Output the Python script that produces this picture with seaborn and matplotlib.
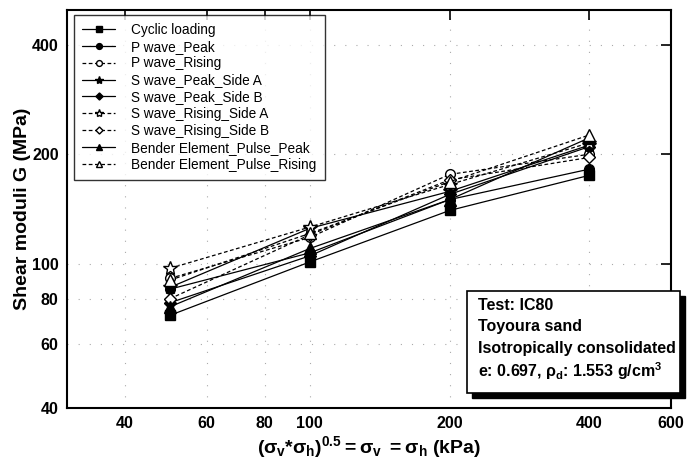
import matplotlib
matplotlib.use("Agg")
import matplotlib.pyplot as plt
from matplotlib.patches import Rectangle
from matplotlib.ticker import FixedLocator, FixedFormatter, NullLocator
import seaborn as sns
import pandas as pd

# Mean effective confining stress (kPa)
stress = [50, 100, 200, 400]

# Shear moduli G (MPa) for each measurement method
cyclic_loading = [72, 101, 140, 175]
p_peak = [85, 107, 150, 182]
p_rising = [91, 118, 176, 200]
s_peak_a = [86, 125, 158, 212]
s_peak_b = [78, 105, 155, 210]
s_rising_a = [97, 126, 165, 215]
s_rising_b = [80, 120, 170, 196]
be_peak = [76, 110, 150, 222]
be_rising = [90, 121, 168, 226]

series_names = [
    "Cyclic loading", "P wave_Peak", "P wave_Rising",
    "S wave_Peak_Side A", "S wave_Peak_Side B",
    "S wave_Rising_Side A", "S wave_Rising_Side B",
    "Bender Element_Pulse_Peak", "Bender Element_Pulse_Rising",
]
series_values = [cyclic_loading, p_peak, p_rising, s_peak_a, s_peak_b,
                 s_rising_a, s_rising_b, be_peak, be_rising]

markers = ["s", "o", "o", "*", "D", "*", "D", "^", "^"]
filled = [True, True, False, True, True, False, False, True, False]
marker_sizes = [7, 7, 7, 10, 6, 10, 6, 8, 8]

sns.set_theme(style="white")
plt.rcParams["font.family"] = ["Liberation Sans", "DejaVu Sans"]
plt.rcParams["text.color"] = "black"
plt.rcParams["axes.labelcolor"] = "black"
plt.rcParams["xtick.color"] = "black"
plt.rcParams["ytick.color"] = "black"
plt.rcParams["mathtext.fontset"] = "custom"
plt.rcParams["mathtext.rm"] = "Liberation Sans:bold"
plt.rcParams["mathtext.it"] = "Liberation Sans:bold"
plt.rcParams["mathtext.bf"] = "Liberation Sans:bold"

fig = plt.figure(figsize=(6.87, 4.66), dpi=100)
ax = fig.add_axes([0.0975, 0.1245, 0.8795, 0.8545])

for name, vals, mk, fl, ms in zip(series_names, series_values, markers, filled, marker_sizes):
    df = pd.DataFrame({"stress": stress, "G": vals})
    sns.lineplot(data=df, x="stress", y="G", ax=ax, color="black",
                 marker=mk, markersize=ms, linewidth=0.9,
                 linestyle="-" if fl else (0, (3, 2)),
                 label=name, markeredgecolor="black",
                 markerfacecolor="black" if fl else "white",
                 markeredgewidth=1.0)

ax.set_xscale("log")
ax.set_yscale("log")
ax.set_xlim(30, 600)
ax.set_ylim(40, 500)

xt = [40, 60, 80, 100, 200, 400, 600]
yt = [40, 60, 80, 100, 200, 400]
ax.xaxis.set_major_locator(FixedLocator(xt))
ax.xaxis.set_major_formatter(FixedFormatter([str(v) for v in xt]))
ax.yaxis.set_major_locator(FixedLocator(yt))
ax.yaxis.set_major_formatter(FixedFormatter([str(v) for v in yt]))
ax.xaxis.set_minor_locator(NullLocator())
ax.yaxis.set_minor_locator(NullLocator())

ax.tick_params(axis="both", which="major", direction="in", length=7, width=1.2,
               top=True, right=True, labelsize=11.5, pad=6,
               colors="black", labelcolor="black")
for lbl in ax.get_xticklabels() + ax.get_yticklabels():
    lbl.set_fontweight("bold")

for sp in ax.spines.values():
    sp.set_linewidth(1.5)
    sp.set_color("black")

ax.grid(True, which="major", color="#aaaaaa", linestyle=(0, (1, 9)), linewidth=0.8)

ax.set_ylabel("Shear moduli G (MPa)", fontsize=14, fontweight="bold",
              labelpad=1, color="black")
ax.set_xlabel(r"$(\sigma_v{*}\sigma_h)^{0.5}{=}\sigma_v\ {=}\sigma_h$ (kPa)",
              fontsize=14, fontweight="bold", labelpad=2, color="black")

leg = ax.legend(loc="upper left", bbox_to_anchor=(0.012, 0.988), frameon=True,
                fancybox=False, edgecolor="black", fontsize=9.8,
                handlelength=2.4, handletextpad=1.2, labelspacing=0.21,
                borderpad=0.6, borderaxespad=0.0, markerscale=0.6)
leg.get_frame().set_linewidth(1.0)
for t in leg.get_texts():
    t.set_color("black")

# Test information box with drop shadow
px_w, px_h = 687.0, 466.0
bx0, bx1, by0, by1 = 467, 680, 291, 393
sh = 5
fig.patches.append(Rectangle(((bx0 + sh) / px_w, 1 - (by1 + sh) / px_h),
                             (bx1 - bx0) / px_w, (by1 - by0) / px_h,
                             transform=fig.transFigure, facecolor="black",
                             edgecolor="black", zorder=5))
fig.patches.append(Rectangle((bx0 / px_w, 1 - by1 / px_h),
                             (bx1 - bx0) / px_w, (by1 - by0) / px_h,
                             transform=fig.transFigure, facecolor="white",
                             edgecolor="black", linewidth=1.2, zorder=6))
info_lines = ["Test: IC80", "Toyoura sand", "Isotropically consolidated",
              r"e: 0.697, $\rho_d$: 1.553 g/cm$^3$"]
for i, line in enumerate(info_lines):
    fig.text(478 / px_w, 1 - (305 + 22 * i) / px_h, line, fontsize=11.5,
             fontweight="bold", va="center", ha="left", zorder=7, color="black")

fig.savefig("out.png", dpi=100)
